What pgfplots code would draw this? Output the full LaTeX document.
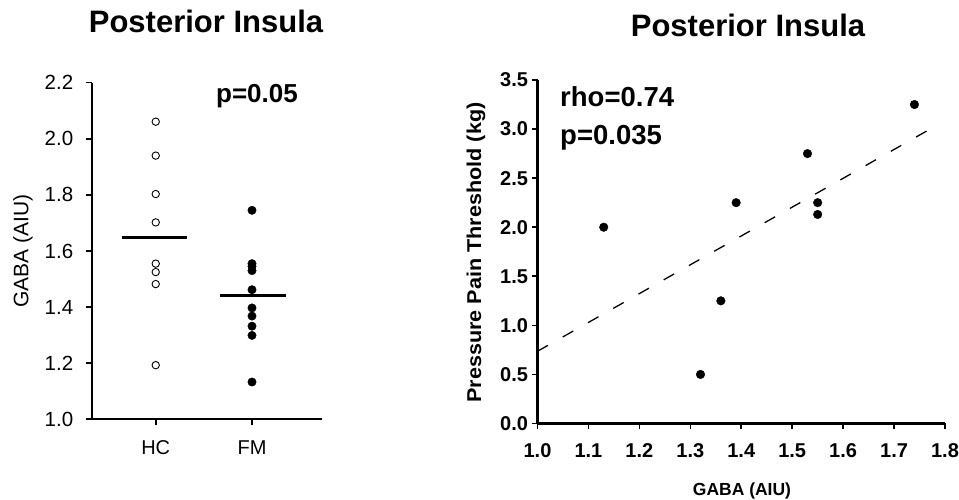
\documentclass[border=0pt]{standalone}
\usepackage{fontspec}
\setmainfont{Liberation Sans}
\usepackage{graphicx}
\usepackage{pgfplots}
\pgfplotsset{compat=1.18}
\begin{document}
\begin{tikzpicture}[x=1pt,y=1pt]
\path[use as bounding box] (0,0) rectangle (959,500);

\begin{axis}[
  at={(91.7pt,80.7pt)}, anchor=south west,
  scale only axis, width=230.3pt, height=336.6pt,
  xmin=0.335, xmax=2.727, ymin=1.0, ymax=2.2,
  axis lines=left, axis line style={-, line width=2.2pt},
  xtick={1,2}, xticklabels={HC,FM},
  ytick={1,1.2,1.4,1.6,1.8,2,2.2},
  tick align=outside, major tick length=6pt,
  tick style={line width=1.6pt, black},
  /pgf/number format/assume math mode=true,
  yticklabel style={/pgf/number format/fixed, /pgf/number format/precision=1, /pgf/number format/fixed zerofill, font=\fontsize{20.5}{20.5}\selectfont, xshift=-9pt},
  xticklabel style={font=\fontsize{20}{20}\selectfont, yshift=-12pt},
  clip=false,
]
\addplot[only marks, black, mark=o, mark size=3.7pt, mark options={line width=0.9pt, fill=white}] coordinates {
(1,2.061) (1,1.940) (1,1.803) (1,1.702) (1,1.555) (1,1.525) (1,1.482) (1,1.193)};
\addplot[only marks, black, mark=*, mark size=4.2pt] coordinates {
(2,1.745) (2,1.555) (2,1.545) (2,1.530) (2,1.462) (2,1.397) (2,1.368) (2,1.332) (2,1.299) (2,1.133)};
\addplot[black, line width=2.4pt] coordinates {(0.65,1.648) (1.33,1.648)};
\addplot[black, line width=2.4pt] coordinates {(1.67,1.442) (2.35,1.442)};
\end{axis}

\begin{axis}[
  at={(537.5pt,76.5pt)}, anchor=south west,
  scale only axis, width=407.5pt, height=343.5pt,
  xmin=1, xmax=1.8, ymin=0, ymax=3.5,
  axis lines=left, axis line style={-, line width=2.8pt},
  xtick={1,1.1,1.2,1.3,1.4,1.5,1.6,1.7,1.8},
  ytick={0,0.5,1,1.5,2,2.5,3,3.5},
  tick align=outside, major tick length=6pt,
  tick style={line width=1.6pt, black},
  /pgf/number format/assume math mode=true,
  ticklabel style={/pgf/number format/fixed, /pgf/number format/precision=1, /pgf/number format/fixed zerofill, font=\fontsize{20}{20}\selectfont\bfseries},
  xticklabel style={yshift=-11pt},
  clip=false,
]
\addplot[black, dash pattern=on 12pt off 17pt, line width=1.3pt] coordinates {(1.0,0.736) (1.777,3.018)};
\addplot[only marks, black, mark=*, mark size=4.3pt] coordinates {
(1.13,2.00) (1.32,0.50) (1.36,1.25) (1.39,2.25) (1.53,2.75) (1.55,2.25) (1.55,2.13) (1.74,3.25)};
\end{axis}

\node[anchor=base, font=\fontsize{31}{31}\selectfont\bfseries] at (206,467) {Posterior Insula};
\node[anchor=base, font=\fontsize{31}{31}\selectfont\bfseries] at (748,463) {Posterior Insula};
\node[anchor=base, font=\fontsize{26}{26}\selectfont\bfseries] at (257,397) {p=0.05};
\node[anchor=base west, inner sep=0pt, font=\fontsize{27.5}{27.5}\selectfont\bfseries] at (560,393) {rho=0.74};
\node[anchor=base west, inner sep=0pt, font=\fontsize{27.5}{27.5}\selectfont\bfseries] at (560,355) {p=0.035};
\node[rotate=90, inner sep=0pt, font=\fontsize{21}{21}\selectfont] at (23,249) {GABA (AIU)};
\node[rotate=90, inner sep=0pt, font=\fontsize{20}{20}\selectfont\bfseries] at (476,247.5) {\scalebox{1.08}[1]{Pressure Pain Threshold (kg)}};
\node[anchor=base, inner sep=0pt, font=\fontsize{17.5}{17.5}\selectfont\bfseries] at (742,4) {GABA (AIU)};
\end{tikzpicture}
\end{document}
